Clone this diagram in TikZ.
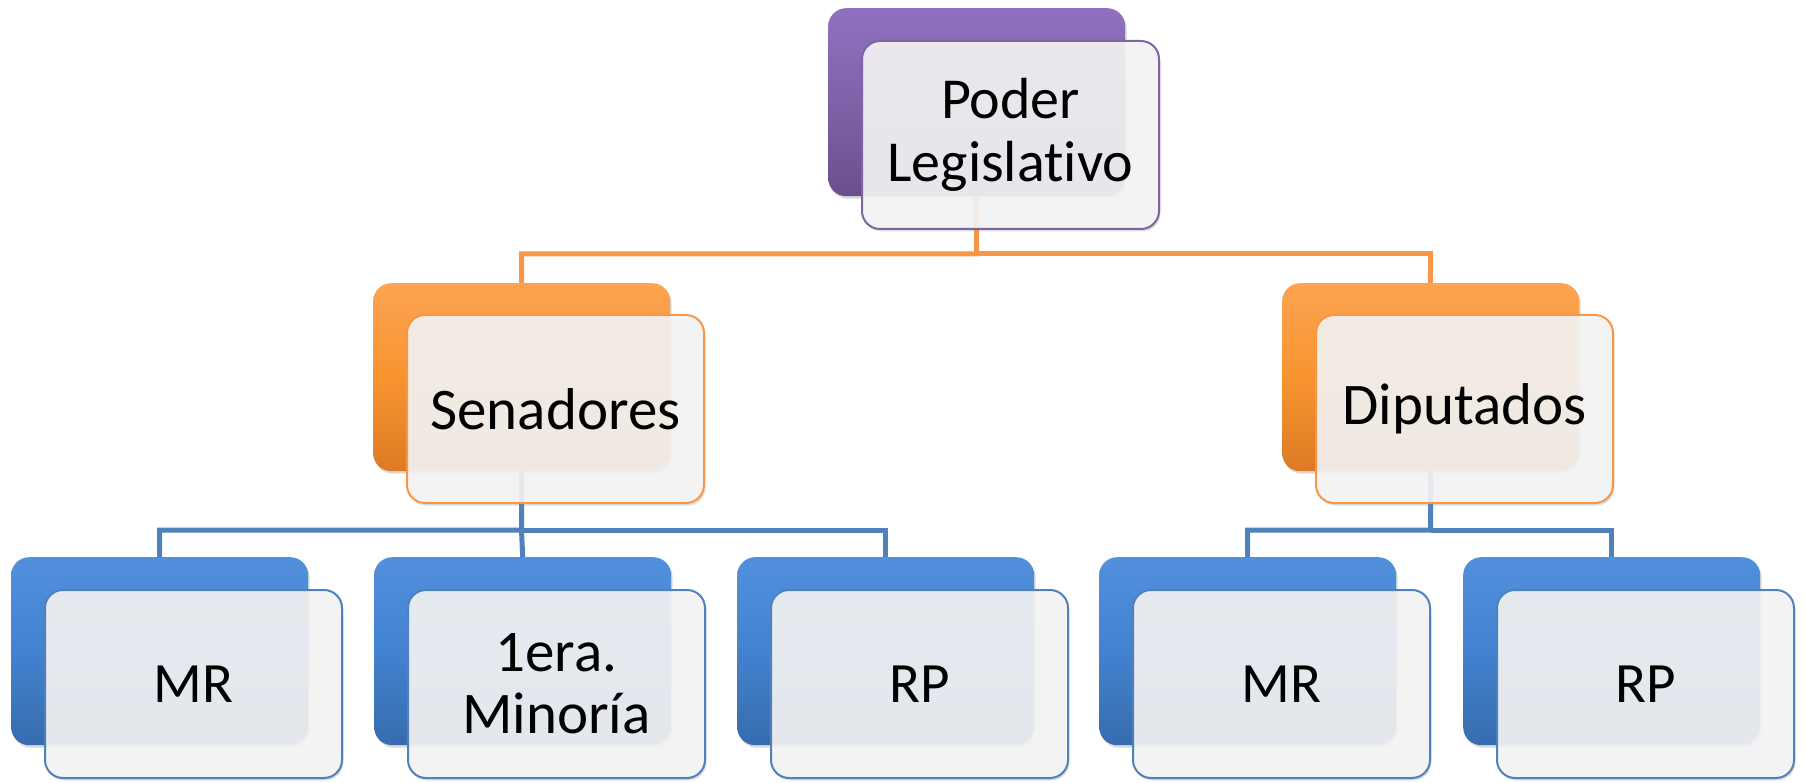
\documentclass[tikz,border=0pt]{standalone}
\usepackage{fontspec}
\setmainfont{Carlito}[Ligatures=NoCommon]
\usetikzlibrary{shadows}
\definecolor{purpT}{HTML}{8F71BF}
\definecolor{purpM}{HTML}{7F61A9}
\definecolor{purpB}{HTML}{6A4F8E}
\definecolor{purpL}{HTML}{8064A2}
\definecolor{oranT}{HTML}{FCA452}
\definecolor{oranM}{HTML}{F7942F}
\definecolor{oranB}{HTML}{DD7A24}
\definecolor{oranL}{HTML}{F79646}
\definecolor{bluT}{HTML}{5290DE}
\definecolor{bluM}{HTML}{4382D0}
\definecolor{bluB}{HTML}{376CAE}
\definecolor{bluL}{HTML}{4F81BD}
\definecolor{frontfill}{HTML}{F5F5F5}
\begin{document}
\begin{tikzpicture}[x=1pt,y=-1pt,
  backbox/.style={rectangle, rounded corners=18pt, minimum width=297pt, minimum height=188pt,
    anchor=north west, inner sep=0pt,
    drop shadow={opacity=0.3, shadow xshift=1.5pt, shadow yshift=-2.5pt}},
  frontbox/.style={rectangle, rounded corners=18pt, minimum width=297pt, minimum height=188pt,
    anchor=north west, inner sep=0pt, align=center, line width=2pt,
    fill=frontfill, fill opacity=0.9, text opacity=1, text=black,
    drop shadow={opacity=0.25, shadow xshift=1.5pt, shadow yshift=-2.5pt}},
  pback/.style={backbox, top color=purpT, bottom color=purpB, middle color=purpM},
  oback/.style={backbox, top color=oranT, bottom color=oranB, middle color=oranM},
  bback/.style={backbox, top color=bluT, bottom color=bluB, middle color=bluM},
  pfront/.style={frontbox, draw=purpL, font=\fontsize{58}{63}\selectfont},
  ofront/.style={frontbox, draw=oranL, font=\fontsize{59}{66}\selectfont},
  bfront/.style={frontbox, draw=bluL, font=\fontsize{57}{61}\selectfont},
  oline/.style={draw=oranL, line width=5pt},
  bline/.style={draw=bluL, line width=5pt}]
\useasboundingbox (0,0) rectangle (1805,783);
% back boxes
\node[pback] (pB) at (828,8) {};
\node[oback] (sB) at (373,283) {};
\node[oback] (dB) at (1282,283) {};
\node[bback] (m1B) at (11,557) {};
\node[bback] (m2B) at (374,557) {};
\node[bback] (m3B) at (737,557) {};
\node[bback] (m4B) at (1099,557) {};
\node[bback] (m5B) at (1463,557) {};
% connectors
\coordinate (bus0) at (976.5,254);
\coordinate (bus1) at (521.5,530);
\coordinate (bus2) at (1430.5,530);
\draw[oline] (pB.south) -- (bus0) -| (sB.north);
\draw[oline] (bus0) -| (dB.north);
\draw[bline] (sB.south) -- (bus1) -| (m1B.north);
\draw[bline] (bus1) -- (m2B.north);
\draw[bline] (bus1) -| (m3B.north);
\draw[bline] (dB.south) -- (bus2) -| (m4B.north);
\draw[bline] (bus2) -| (m5B.north);
% front boxes
\node[pfront] (pF) at (861,40) {Poder\\Legislativo};
\node[ofront] (sF) at (406,314) {Senadores};
\node[ofront] (dF) at (1315,314) {Diputados};
\node[bfront] (m1F) at (44,589) {MR};
\node[bfront, font=\fontsize{59}{62}\selectfont] (m2F) at (407,589) {1era.\\Minoría};
\node[bfront] (m3F) at (770,589) {RP};
\node[bfront] (m4F) at (1132,589) {MR};
\node[bfront] (m5F) at (1496,589) {RP};
\end{tikzpicture}
\end{document}
